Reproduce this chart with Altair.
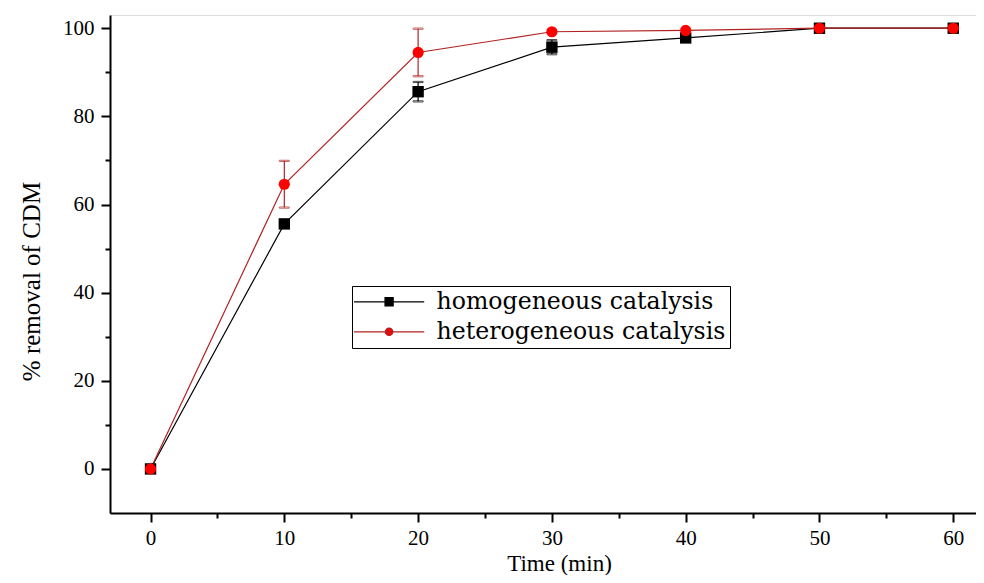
import altair as alt
import pandas as pd

# ---- data ----
time_min = [0, 10, 20, 30, 40, 50, 60]
homogeneous = [0, 55.6, 85.6, 95.7, 97.8, 100, 100]
homogeneous_err = [0, 0, 2.2, 1.6, 0, 0, 0]
heterogeneous = [0, 64.6, 94.5, 99.2, 99.5, 100, 100]
heterogeneous_err = [0, 5.3, 5.4, 0, 0, 0, 0]
series_names = ["homogeneous catalysis", "heterogeneous catalysis"]

x_major = [0, 10, 20, 30, 40, 50, 60]
x_minor = [5, 15, 25, 35, 45, 55]
y_major = [0, 20, 40, 60, 80, 100]
y_minor = [10, 30, 50, 70, 90]

rows = []
for name, vals, errs in [(series_names[0], homogeneous, homogeneous_err),
                         (series_names[1], heterogeneous, heterogeneous_err)]:
    for t, v, e in zip(time_min, vals, errs):
        rows.append({"series": name, "time": t, "value": v, "err": e,
                     "lo": v - e, "hi": v + e})
df = pd.DataFrame(rows)

FONT = "Liberation Serif"
LEGEND_FONT = "DejaVu Serif"
LINE_COLORS = ["#000000", "#b22222"]
FILL_COLORS = ["#000000", "#ff0000"]

x_scale = alt.Scale(domain=[-3.03, 61.7], nice=False, zero=False)
y_scale = alt.Scale(domain=[-10, 103], nice=False, zero=False)

axis_common = dict(grid=False, domainColor="black", tickColor="black",
                   domainWidth=2, tickWidth=2, labelColor="black",
                   labelFont=FONT, labelFontSize=21, titleFont=FONT,
                   titleColor="black", titleFontWeight="normal",
                   labelFlush=False, labelOverlap=False)

x_axis_main = alt.Axis(values=x_major, tickSize=9, labelPadding=5,
                       title="Time (min)", titleFontSize=23, titleX=449, titleY=57,
                       titleBaseline="alphabetic", titleAlign="center",
                       orient="bottom", **axis_common)
y_axis_main = alt.Axis(values=y_major, tickSize=9, labelPadding=7,
                       title="% removal of CDM", titleFontSize=25, titleX=-71, titleY=266,
                       titleAngle=270, titleBaseline="alphabetic", titleAlign="center",
                       orient="left", **axis_common)
x_axis_minor = alt.Axis(values=x_minor, tickSize=5, tickWidth=2, tickColor="black",
                        labels=False, domain=False, title=None, grid=False, orient="bottom")
y_axis_minor = alt.Axis(values=y_minor, tickSize=5, tickWidth=2, tickColor="black",
                        labels=False, domain=False, title=None, grid=False, orient="left")

base = alt.Chart(df)

def X(axis=None, field="time"):
    return alt.X(f"{field}:Q", scale=x_scale, axis=axis)

def Y(field="value", axis=None):
    return alt.Y(f"{field}:Q", scale=y_scale, axis=axis)

stroke_enc = alt.Stroke("series:N", scale=alt.Scale(domain=series_names, range=LINE_COLORS), legend=None)

# axes layers (invisible marks)
axes_main = base.mark_point(opacity=0, size=0).encode(x=X(x_axis_main), y=Y(axis=y_axis_main))
axes_minor = base.mark_point(opacity=0, size=0).encode(x=X(x_axis_minor), y=Y(axis=y_axis_minor))

err_df = base.transform_filter("datum.err > 0")
err_rules = err_df.mark_rule(strokeWidth=1.2).encode(x=X(), y=Y("lo"), y2="hi:Q", stroke=stroke_enc)
err_caps_lo = err_df.mark_tick(orient="horizontal", size=10, thickness=1.2).encode(
    x=X(), y=Y("lo"), stroke=stroke_enc, fill=alt.value("transparent"))
err_caps_hi = err_df.mark_tick(orient="horizontal", size=10, thickness=1.2).encode(
    x=X(), y=Y("hi"), stroke=stroke_enc, fill=alt.value("transparent"))

lines = base.mark_line(strokeWidth=1.2).encode(x=X(), y=Y(), stroke=stroke_enc, detail="series:N")

points = base.mark_point(filled=True, opacity=1).encode(
    x=X(), y=Y(),
    fill=alt.Fill("series:N", scale=alt.Scale(domain=series_names, range=FILL_COLORS), legend=None),
    shape=alt.Shape("series:N", scale=alt.Scale(domain=series_names, range=["square", "circle"]), legend=None),
    size=alt.Size("series:N", scale=alt.Scale(domain=series_names, range=[130, 125]), legend=None),
)

# legend symbols: line sample with marker, as custom symbol paths (1 unit = 6 px)
k = 0.5523
cx, r = 3.55, 0.62
circle_path = (f"M{cx - r},0C{cx - r},{-k * r} {cx - k * r},{-r} {cx},{-r}"
               f"C{cx + k * r},{-r} {cx + r},{-k * r} {cx + r},0"
               f"C{cx + r},{k * r} {cx + k * r},{r} {cx},{r}"
               f"C{cx - k * r},{r} {cx - r},{k * r} {cx - r},0Z")
s = 0.68
square_path = f"M{cx - s},{-s}H{cx + s}V{s}H{cx - s}Z"
line_path = "M-2.3,0H9.4"
legend_shapes = [line_path + square_path, line_path + circle_path]

leg = alt.Legend(orient="none", legendX=242, legendY=271, title=None,
                 labelFont=LEGEND_FONT, labelFontSize=23.6, labelColor="black", labelLimit=600,
                 symbolSize=144, symbolStrokeWidth=1.2, labelOffset=57,
                 padding=4, rowPadding=5, strokeColor="black",
                 fillColor="white", symbolOpacity=1)

legend_layer = base.transform_filter("datum.time < -100").mark_point(filled=True, opacity=1).encode(
    x=X(), y=Y(),
    fill=alt.Fill("series:N", scale=alt.Scale(domain=series_names, range=FILL_COLORS), legend=leg),
    stroke=alt.Stroke("series:N", scale=alt.Scale(domain=series_names, range=LINE_COLORS), legend=leg),
    shape=alt.Shape("series:N", scale=alt.Scale(domain=series_names, range=legend_shapes), legend=leg),
)

chart = alt.layer(
    axes_main, axes_minor, err_rules, err_caps_lo, err_caps_hi, lines, points, legend_layer
).resolve_scale(
    fill="independent", stroke="independent", shape="independent", size="independent"
).resolve_axis(
    x="independent", y="independent"
).properties(
    width=866, height=498,
    autosize=alt.AutoSizeParams(type="none"),
    padding={"left": 102, "top": 7, "right": 0, "bottom": 62},
).configure_view(stroke=None).configure(
    background="white", font=FONT,
).configure_legend(
    labelFont=LEGEND_FONT, labelFontSize=23.6, labelColor="black", labelLimit=600
).configure_axis(
    labelFont=FONT, titleFont=FONT
)

chart.save("out.html", embed_options={"renderer": "svg", "actions": False})
